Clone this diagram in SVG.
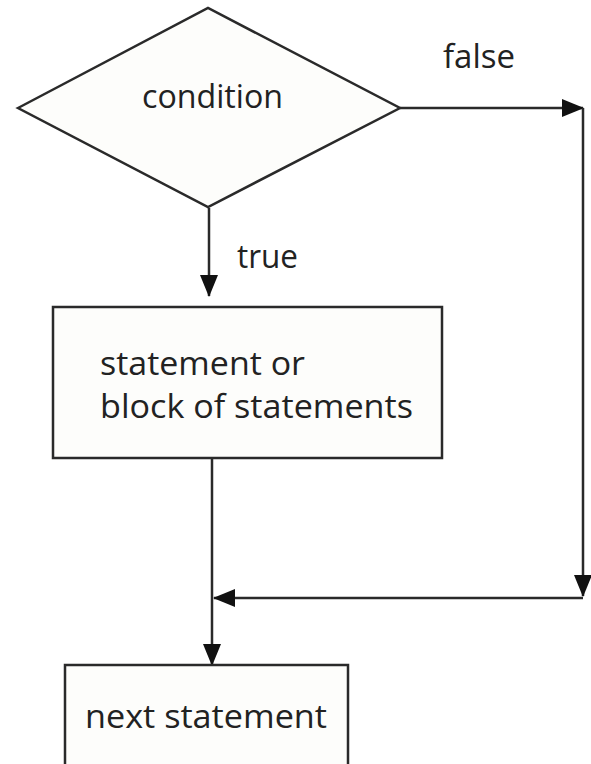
<svg xmlns="http://www.w3.org/2000/svg" width="591" height="764" viewBox="0 0 591 764">
<style>
.shape{fill:#fdfdfb;stroke:#2a2a2a;stroke-width:2.5;stroke-linejoin:miter}
.conn{fill:none;stroke:#2a2a2a;stroke-width:2.5}
text{font-family:"Open Sans","DejaVu Sans",sans-serif;font-size:32px;fill:#222}
</style>
<defs>
<marker id="arr" viewBox="0 0 22 18" markerWidth="22" markerHeight="18" refX="21" refY="9" orient="auto" markerUnits="userSpaceOnUse">
<path d="M0,0 L22,9 L0,18 Z" fill="#111"/>
</marker>
</defs>
<rect width="591" height="764" fill="#ffffff"/>
<g id="connectors">
<path class="conn" d="M400,108 H583" marker-end="url(#arr)"/>
<path class="conn" d="M583,108 V596" marker-end="url(#arr)"/>
<path class="conn" d="M583,598 H214" marker-end="url(#arr)"/>
<path class="conn" d="M209,208 V296" marker-end="url(#arr)"/>
<path class="conn" d="M212,458 V665" marker-end="url(#arr)"/>
<text x="443" y="68" textLength="72" lengthAdjust="spacingAndGlyphs">false</text>
<text x="237" y="268" textLength="61" lengthAdjust="spacingAndGlyphs">true</text>
</g>
<g id="condition">
<polygon class="shape" points="18,108 208,8 400,108 208,207" fill="#ffffff"/>
<text x="142" y="108" textLength="141" lengthAdjust="spacingAndGlyphs">condition</text>
</g>
<g id="statement">
<rect class="shape" x="53" y="307" width="389" height="151"/>
<text x="100" y="375" textLength="205" lengthAdjust="spacingAndGlyphs">statement or</text>
<text x="100" y="418" textLength="313" lengthAdjust="spacingAndGlyphs">block of statements</text>
</g>
<g id="next">
<rect class="shape" x="65" y="665" width="283" height="110"/>
<text x="85" y="728" textLength="242" lengthAdjust="spacingAndGlyphs">next statement</text>
</g>
</svg>
